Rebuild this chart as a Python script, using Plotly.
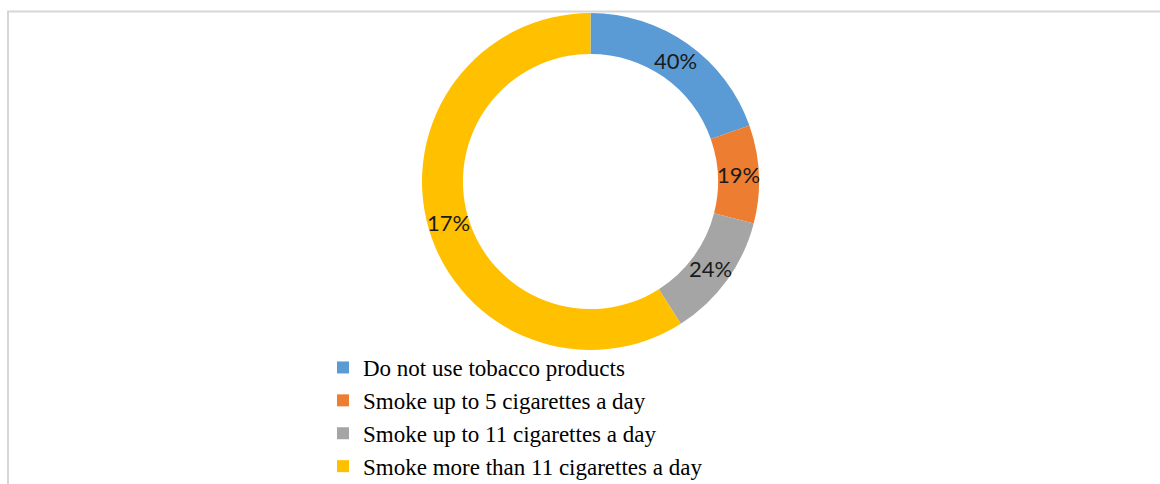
import math
import plotly.graph_objects as go

categories = [
    "Do not use tobacco products",
    "Smoke up to 5 cigarettes a day",
    "Smoke up to 11 cigarettes a day",
    "Smoke more than 11 cigarettes a day",
]
slice_values = [19.6, 9.4, 12.0, 59.0]
slice_labels = ["40%", "19%", "24%", "17%"]
colors = ["#5B9BD5", "#ED7D31", "#A5A5A5", "#FFC000"]

W, H = 1160, 484
cx, cy, r = 590.5, 181.5, 168.5
hole = 0.757

fig = go.Figure(go.Pie(
    labels=categories,
    values=slice_values,
    textinfo="none",
    hole=hole,
    sort=False,
    direction="clockwise",
    rotation=0,
    marker=dict(colors=colors, line=dict(width=0)),
    domain=dict(x=[(cx - r) / W, (cx + r) / W], y=[1 - (cy + r) / H, 1 - (cy - r) / H]),
))

# data labels at the middle of each ring segment (as the source chart places them)
total = sum(slice_values)
mid_r = r * (1 + hole) / 2
annotations = []
cum = 0.0
for v, lab in zip(slice_values, slice_labels):
    ang = 2 * math.pi * (cum + v / 2) / total
    cum += v
    px = cx + mid_r * math.sin(ang)
    py = cy - mid_r * math.cos(ang)
    annotations.append(dict(
        x=px / W, y=1 - py / H, xref="paper", yref="paper",
        text=lab, showarrow=False, xanchor="center", yanchor="middle",
        font=dict(family="Lato", size=22, color="#1a1a1a"),
    ))

fig.update_layout(
    width=W, height=H,
    margin=dict(l=0, r=0, t=0, b=0, autoexpand=False),
    paper_bgcolor="white",
    plot_bgcolor="white",
    showlegend=True,
    annotations=annotations,
    legend=dict(
        x=323 / W, xanchor="left",
        y=1 - 346 / H, yanchor="top",
        font=dict(family="Liberation Serif", size=23, color="#000000"),
        bgcolor="rgba(0,0,0,0)",
        tracegroupgap=0,
        itemclick=False,
    ),
    shapes=[
        dict(type="line", xref="paper", yref="paper", x0=7 / W, x1=1, y0=1 - 11.5 / H, y1=1 - 11.5 / H,
             line=dict(color="#d6d6d6", width=2)),
        dict(type="line", xref="paper", yref="paper", x0=8 / W, x1=8 / W, y0=1 - 11.5 / H, y1=0,
             line=dict(color="#d6d6d6", width=2)),
    ],
)

fig.write_html("out.html")
